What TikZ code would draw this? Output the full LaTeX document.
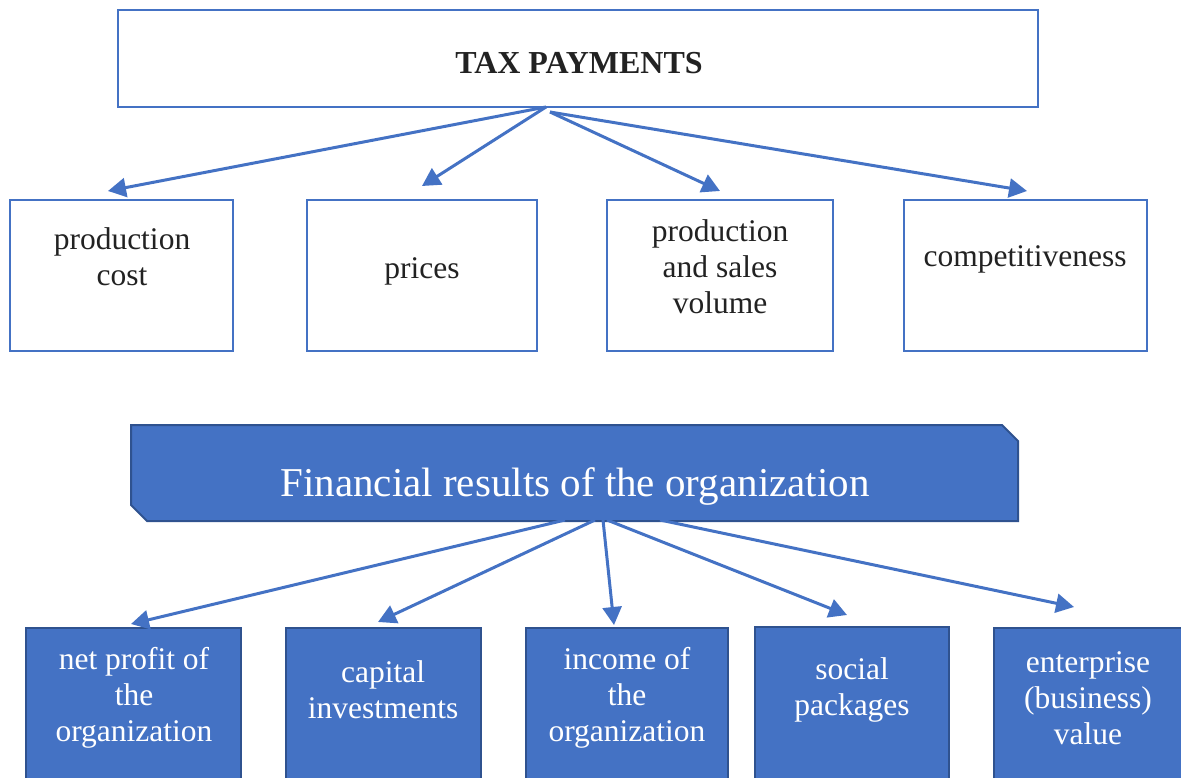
\documentclass[tikz,border=0pt]{standalone}
\usepackage{fontspec}
\setmainfont{Liberation Serif}
\usetikzlibrary{arrows.meta}
\definecolor{accent}{HTML}{4472C4}
\definecolor{accentdark}{HTML}{2F528F}
\definecolor{ink}{HTML}{222222}
\begin{document}
\begin{tikzpicture}[x=1pt,y=-1pt,
  outlinebox/.style={draw=accent,line width=2pt,fill=white,inner sep=0pt},
  filledbox/.style={draw=accentdark,line width=2pt,fill=accent,inner sep=0pt},
  darklabel/.style={text=ink,align=center,inner sep=0pt,font=\fontsize{31.5}{36}\selectfont},
  lightlabel/.style={text=white,align=center,inner sep=0pt,font=\fontsize{31.5}{36}\selectfont},
  link/.style={draw=accent,line width=3pt,-{Triangle[length=18pt,width=19pt]}}]
\useasboundingbox (0,0) rectangle (1181,778);

% --- upper block ---
\node[outlinebox,minimum width=920pt,minimum height=97pt] (tax) at (578,58.5) {};
\node[text=ink,inner sep=0pt,font=\fontsize{32}{36}\selectfont\bfseries] (taxlabel) at (579,63) {TAX PAYMENTS};

\node[outlinebox,minimum width=223pt,minimum height=151pt] (cost) at (121.5,275.5) {};
\node[outlinebox,minimum width=230pt,minimum height=151pt] (prices) at (422,275.5) {};
\node[outlinebox,minimum width=226pt,minimum height=151pt] (volume) at (720,275.5) {};
\node[outlinebox,minimum width=243pt,minimum height=151pt] (compet) at (1025.5,275.5) {};

\node[darklabel] (costlabel) at (122,257) {production\\cost};
\node[darklabel] (priceslabel) at (422,271) {prices};
\node[darklabel] (volumelabel) at (720,267) {production\\and sales\\volume};
\node[darklabel] (competlabel) at (1025,259) {competitiveness};

\coordinate (t1) at (546,107);
\coordinate (t2) at (550,112);
\coordinate (a1) at (108,191);
\coordinate (a2) at (422,186);
\coordinate (a3) at (720,191);
\coordinate (a4) at (1027,191);
\draw[link] (t1) -- (a1);
\draw[link] (t1) -- (a2);
\draw[link] (t2) -- (a3);
\draw[link] (t2) -- (a4);

% --- lower block: banner with two cut corners ---
\draw[draw=accentdark,line width=2pt,fill=accent]
  (131,425) -- (1002,425) -- (1018,441) -- (1018,521) -- (147,521) -- (131,505) -- cycle;
\node[text=white,inner sep=0pt,font=\fontsize{41}{46}\selectfont] (results) at (575,486) {Financial results of the organization};

\node[filledbox,minimum width=215pt,minimum height=160pt] (profit) at (133.5,708) {};
\node[filledbox,minimum width=195pt,minimum height=160pt] (capital) at (383.5,708) {};
\node[filledbox,minimum width=202pt,minimum height=160pt] (income) at (627,708) {};
\node[filledbox,minimum width=194pt,minimum height=162pt] (social) at (852,708) {};
\node[filledbox,minimum width=200pt,minimum height=160pt] (value) at (1094,708) {};

\node[lightlabel] (profitlabel) at (134,698) {net profit of\\the\\organization};
\node[lightlabel] (capitallabel) at (383,690) {capital\\investments};
\node[lightlabel] (incomelabel) at (627,698) {income of\\the\\organization};
\node[lightlabel] (sociallabel) at (852,690) {social\\packages};
\node[lightlabel] (valuelabel) at (1088,698) {enterprise\\(business)\\value};

\coordinate (b1) at (565,520);
\coordinate (b2) at (595,520);
\coordinate (b3) at (603,520);
\coordinate (b4) at (607,520);
\coordinate (b5) at (660,520);
\coordinate (c1) at (131,624);
\coordinate (c2) at (378,622);
\coordinate (c3) at (614,625);
\coordinate (c4) at (847,615);
\coordinate (c5) at (1074,607);
\draw[link] (b1) -- (c1);
\draw[link] (b2) -- (c2);
\draw[link] (b3) -- (c3);
\draw[link] (b4) -- (c4);
\draw[link] (b5) -- (c5);
\end{tikzpicture}
\end{document}
